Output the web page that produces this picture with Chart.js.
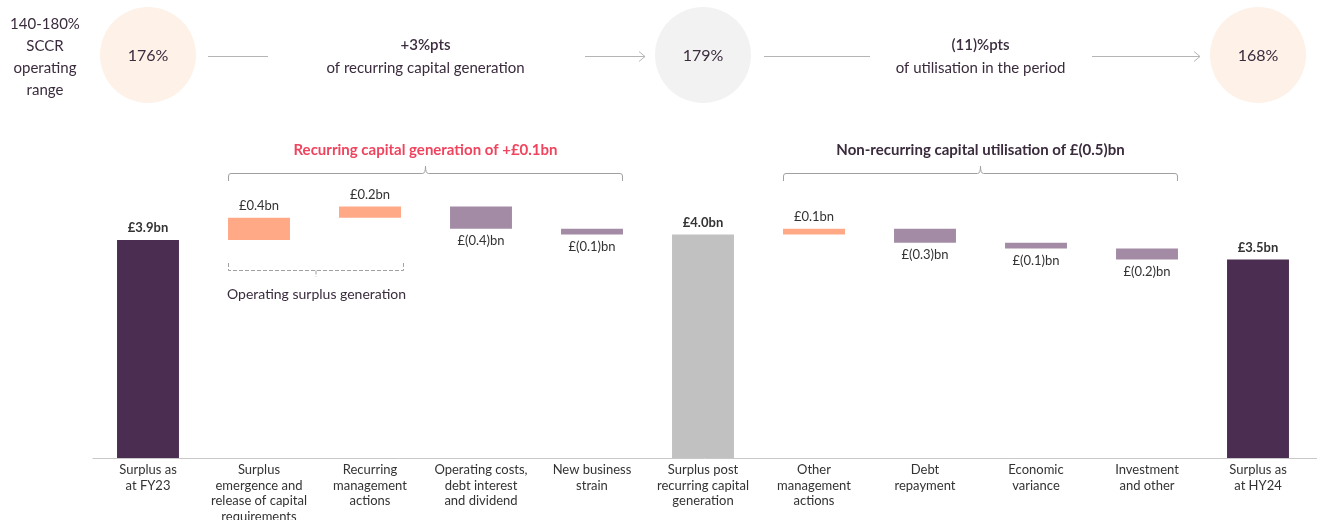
<!DOCTYPE html>
<html>
<head>
<meta charset="utf-8">
<script src="https://cdn.jsdelivr.net/npm/chart.js@4.4.0/dist/chart.umd.min.js"></script>
<style>
  html, body { margin: 0; padding: 0; background: #fff; }
  #wrap { width: 1317px; height: 520px; position: relative; }
</style>
</head>
<body>
<div id="wrap"><canvas id="chart"></canvas></div>
<script>
// categories (x axis labels, one array entry per line)
const categories = [
  ['Surplus as', 'at FY23'],
  ['Surplus', 'emergence and', 'release of capital', 'requirements'],
  ['Recurring', 'management', 'actions'],
  ['Operating costs,', 'debt interest', 'and dividend'],
  ['New business', 'strain'],
  ['Surplus post', 'recurring capital', 'generation'],
  ['Other', 'management', 'actions'],
  ['Debt', 'repayment'],
  ['Economic', 'variance'],
  ['Investment', 'and other'],
  ['Surplus as', 'at HY24']
];
// waterfall values in £bn (start / end of each bar)
const barStart = [0, 3.9, 4.3, 4.5, 4.1, 0, 4.0, 4.1, 3.85, 3.75, 0];
const barEnd = [3.9, 4.3, 4.5, 4.1, 4.0, 4.0, 4.1, 3.85, 3.75, 3.55, 3.55];
const barKind = ['total', 'up', 'up', 'down', 'down', 'subtotal', 'up', 'down', 'down', 'down', 'total'];
const valueLabels = ['£3.9bn', '£0.4bn', '£0.2bn', '£(0.4)bn', '£(0.1)bn', '£4.0bn', '£0.1bn', '£(0.3)bn', '£(0.1)bn', '£(0.2)bn', '£3.5bn'];

// header: solvency ratio path
const rangeText = ['140-180%', 'SCCR', 'operating', 'range'];
const ratioLabels = ['176%', '179%', '168%'];
const ratioAt = [0, 5, 10];
const stepTitles = ['+3%pts', '(11)%pts'];
const stepSubtitles = ['of recurring capital generation', 'of utilisation in the period'];

// groups over the bars
const groupTitles = ['Recurring capital generation of +£0.1bn', 'Non-recurring capital utilisation of £(0.5)bn'];
const groupFrom = [1, 6];
const groupTo = [4, 9];
const subGroupTitle = 'Operating surplus generation';

const colors = {
  total: '#4b2d52',
  subtotal: '#c1c1c1',
  up: '#ffa987',
  down: '#a38ba6'
};

const FONT = 'Lato, "Noto Sans", sans-serif';
const TEXT = '#3a2b3d';

function arrowLine(ctx, x1, x2, y, head) {
  ctx.beginPath();
  ctx.moveTo(x1, y);
  ctx.lineTo(x2, y);
  if (head) {
    ctx.moveTo(x2 - 6, y - 5);
    ctx.lineTo(x2, y);
    ctx.lineTo(x2 - 6, y + 5);
  }
  ctx.stroke();
}

const decorations = {
  id: 'decorations',
  afterDraw(chart) {
    const ctx = chart.ctx;
    const xs = chart.scales.x;
    const ys = chart.scales.y;
    const area = chart.chartArea;
    const meta = chart.getDatasetMeta(0);
    const halfBar = meta.data[0].width / 2;
    ctx.save();

    // baseline
    ctx.strokeStyle = '#c8c8c8';
    ctx.lineWidth = 1;
    ctx.beginPath();
    ctx.moveTo(area.left, area.bottom + 0.5);
    ctx.lineTo(chart.width, area.bottom + 0.5);
    ctx.stroke();

    // header left text
    ctx.fillStyle = TEXT;
    ctx.textAlign = 'center';
    ctx.textBaseline = 'middle';
    ctx.font = '15px ' + FONT;
    rangeText.forEach((t, i) => ctx.fillText(t, 45, 24 + i * 22));

    // circles
    const cy = 55;
    const cx = ratioAt.map(i => xs.getPixelForValue(i));
    cx.forEach((x, i) => {
      ctx.fillStyle = i === 1 ? '#f2f2f2' : '#fdf1e8';
      ctx.beginPath();
      ctx.arc(x, cy, 48, 0, Math.PI * 2);
      ctx.fill();
      ctx.fillStyle = TEXT;
      ctx.font = '16px ' + FONT;
      ctx.fillText(ratioLabels[i], x, cy + 1);
    });

    // step texts
    stepTitles.forEach((t, i) => {
      const mid = (xs.getPixelForValue(groupFrom[i]) + xs.getPixelForValue(groupTo[i])) / 2;
      ctx.fillStyle = TEXT;
      ctx.font = '600 15px ' + FONT;
      ctx.fillText(t, mid, 45);
      ctx.font = '15px ' + FONT;
      ctx.fillText(stepSubtitles[i], mid, 68);
    });

    // connectors
    ctx.strokeStyle = '#b5b5b5';
    ctx.lineWidth = 1;
    arrowLine(ctx, cx[0] + 60, cx[0] + 120, 56.5, false);
    arrowLine(ctx, cx[1] - 118, cx[1] - 58, 56.5, true);
    arrowLine(ctx, cx[1] + 61, cx[1] + 167, 56.5, false);
    arrowLine(ctx, cx[2] - 166, cx[2] - 58, 56.5, true);

    // group brackets
    groupTitles.forEach((t, i) => {
      const l = xs.getPixelForValue(groupFrom[i]) - halfBar;
      const r = xs.getPixelForValue(groupTo[i]) + halfBar;
      const mid = (l + r) / 2;
      ctx.fillStyle = i === 0 ? '#f0445e' : TEXT;
      ctx.font = 'bold 15px ' + FONT;
      ctx.fillText(t, mid, 150);
      ctx.strokeStyle = '#a0a0a0';
      ctx.beginPath();
      ctx.moveTo(l + 0.5, 181);
      ctx.lineTo(l + 0.5, 176);
      ctx.quadraticCurveTo(l + 0.5, 173.5, l + 3, 173.5);
      ctx.lineTo(mid - 3, 173.5);
      ctx.quadraticCurveTo(mid, 173.5, mid, 166);
      ctx.quadraticCurveTo(mid, 173.5, mid + 3, 173.5);
      ctx.lineTo(r - 3, 173.5);
      ctx.quadraticCurveTo(r - 0.5, 173.5, r - 0.5, 176);
      ctx.lineTo(r - 0.5, 181);
      ctx.stroke();
    });

    // dashed sub bracket
    const sl = xs.getPixelForValue(1) - halfBar;
    const sr = xs.getPixelForValue(2) + halfBar + 3;
    const sm = (sl + sr) / 2;
    ctx.strokeStyle = '#a0a0a0';
    ctx.setLineDash([4, 2]);
    ctx.beginPath();
    ctx.moveTo(sl + 0.5, 263);
    ctx.lineTo(sl + 0.5, 270.5);
    ctx.lineTo(sr - 0.5, 270.5);
    ctx.lineTo(sr - 0.5, 263);
    ctx.moveTo(sm, 270.5);
    ctx.lineTo(sm, 277);
    ctx.stroke();
    ctx.setLineDash([]);
    ctx.fillStyle = TEXT;
    ctx.font = '14px ' + FONT;
    ctx.textAlign = 'left';
    ctx.fillText(subGroupTitle, sl - 1, 294);
    ctx.textAlign = 'center';

    // value labels
    valueLabels.forEach((t, i) => {
      const x = xs.getPixelForValue(i);
      const hi = Math.max(barStart[i], barEnd[i]);
      const lo = Math.min(barStart[i], barEnd[i]);
      const isTotal = barKind[i] === 'total' || barKind[i] === 'subtotal';
      ctx.font = (isTotal ? 'bold ' : '') + '13px ' + FONT;
      ctx.fillStyle = '#333333';
      if (barKind[i] === 'down') {
        ctx.fillText(t, x, ys.getPixelForValue(lo) + 12);
      } else {
        ctx.fillText(t, x, ys.getPixelForValue(hi) - 12);
      }
    });

    ctx.restore();
  }
};

new Chart(document.getElementById('chart'), {
  type: 'bar',
  data: {
    labels: categories,
    datasets: [{
      data: barStart.map((s, i) => [s, barEnd[i]]),
      backgroundColor: barKind.map(k => colors[k]),
      borderWidth: 0,
      categoryPercentage: 1,
      barPercentage: 0.558
    }]
  },
  options: {
    responsive: true,
    maintainAspectRatio: false,
    animation: false,
    layout: { padding: { top: 122.6, left: 92.5, right: 3.5, bottom: 0 } },
    plugins: {
      legend: { display: false },
      tooltip: { enabled: false }
    },
    scales: {
      x: {
        grid: { display: false, drawTicks: false },
        border: { display: false },
        ticks: {
          color: '#333333',
          padding: 4,
          maxRotation: 0,
          autoSkip: false,
          font: { family: FONT, size: 13, lineHeight: 1.2 }
        },
        afterFit(scale) { scale.height = 62; }
      },
      y: {
        display: false,
        min: 0,
        max: 6
      }
    }
  },
  plugins: [decorations]
});
</script>
</body>
</html>
